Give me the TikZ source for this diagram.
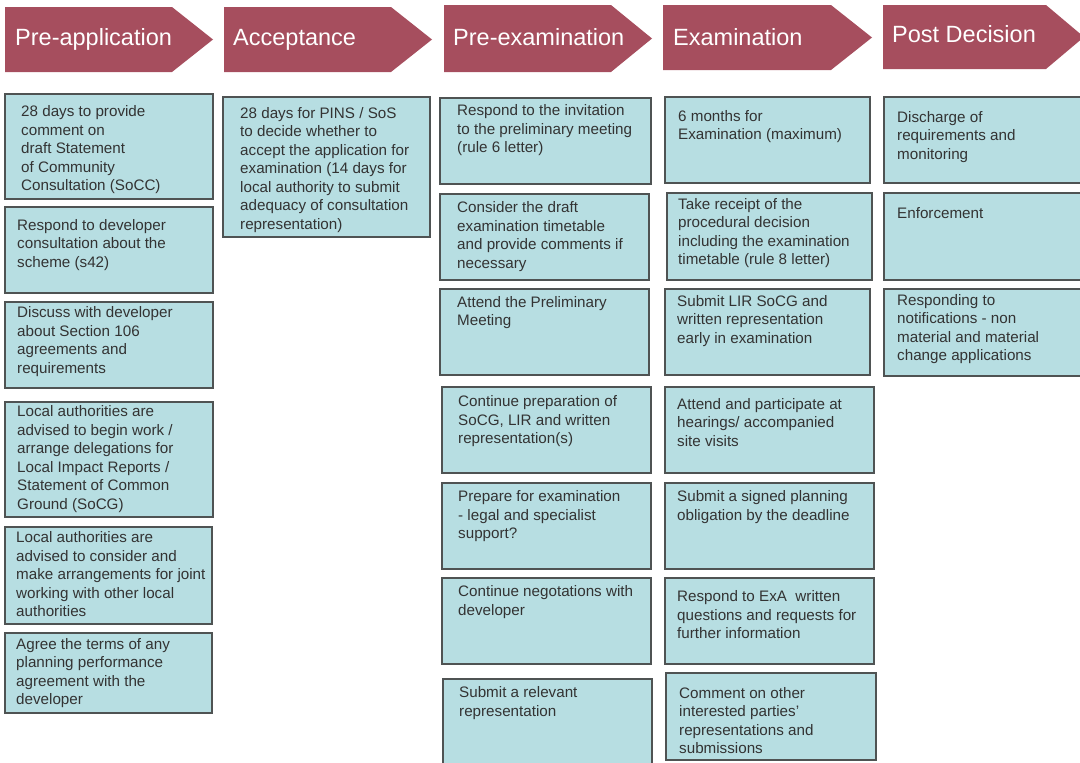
\documentclass[tikz,border=0pt]{standalone}
\usepackage{fontspec}
\setmainfont{Liberation Sans}
\definecolor{hdrcol}{HTML}{A64E5E}
\definecolor{boxfill}{HTML}{B7DEE2}
\definecolor{boxline}{HTML}{4F5353}
\definecolor{txtcol}{HTML}{333333}
\tikzset{
  hdr/.style={fill=hdrcol,draw=none},
  hdrtext/.style={anchor=base west,inner sep=0pt,text=white,font=\fontsize{23.5}{28}\selectfont},
  boxs/.style={draw=boxline,fill=boxfill,line width=1.3pt},
  txt/.style={anchor=base west,inner sep=0pt,text=txtcol,font=\fontsize{15.2}{18.5}\selectfont},
}
\newcommand\mybox[8]{%
  \draw[boxs] (#2,#3) rectangle (#4,#5);
  \node[txt] (#1) at (#6,#7) {\parbox[t]{230pt}{\raggedright #8}};}
\newcommand\mychev[6]{% name, x left, body end, tip, top, bottom
  \fill[hdr] (#2,#5) -- (#3,#5) -- (#4,{(#5+#6)/2}) -- (#3,#6) -- (#2,#6) -- cycle;
  \coordinate (#1) at (#2,#5);}
\begin{document}
\begin{tikzpicture}[x=1pt,y=-1pt]
\useasboundingbox (0,0) rectangle (1080,763);
\begin{scope}
\clip (0,0) rectangle (1080,763);
% headers
\mychev{h1}{5}{172}{213}{7}{72}
\mychev{h2}{224}{391}{432}{7}{72}
\mychev{h3}{444}{611}{652}{5}{72}
\mychev{h4}{663}{831}{872}{5}{70}
\mychev{h5}{883}{1046}{1084}{5}{69}
\node[hdrtext] (t1) at (15,45) {Pre-application};
\node[hdrtext] (t2) at (233,45) {Acceptance};
\node[hdrtext] (t3) at (453,45) {Pre-examination};
\node[hdrtext] (t4) at (673,45) {Examination};
\node[hdrtext] (t5) at (892,42) {Post Decision};
% column 1
\mybox{a1}{5}{94}{213}{199}{21}{116.7}{28 days to provide\\comment on\\draft Statement\\of Community\\Consultation (SoCC)}
\mybox{a2}{5}{207}{213}{293}{17}{230}{Respond to developer\\consultation about the\\scheme (s42)}
\mybox{a3}{5}{302}{213}{388}{17}{317.7}{Discuss with developer\\about Section 106\\agreements and\\requirements}
\mybox{a4}{5}{402}{213}{517}{17}{416.7}{Local authorities are\\advised to begin work /\\arrange delegations for\\Local Impact Reports /\\Statement of Common\\Ground (SoCG)}
\mybox{a5}{5}{527}{212}{624}{16}{542.7}{Local authorities are\\advised to consider and\\make arrangements for joint\\working with other local\\authorities}
\mybox{a6}{5}{633}{212}{713}{16}{649}{Agree the terms of any\\planning performance\\agreement with the\\developer}
% column 2
\mybox{b1}{223}{97}{430}{237}{240}{118.3}{28 days for PINS / SoS\\to decide whether to\\accept the application for\\examination (14 days for\\local authority to submit\\adequacy of consultation\\representation)}
% column 3
\mybox{c1}{440}{98}{651}{184}{457}{115.7}{Respond to the invitation\\to the preliminary meeting\\(rule 6 letter)}
\mybox{c2}{440}{194}{649}{280}{457}{212.7}{Consider the draft\\examination timetable\\and provide comments if\\necessary}
\mybox{c3}{440}{289}{649}{375}{457}{307.3}{Attend the Preliminary\\Meeting}
\mybox{c4}{442}{387}{651}{473}{458}{406.7}{Continue preparation of\\SoCG, LIR and written\\representation(s)}
\mybox{c5}{442}{483}{651}{569}{458}{501.7}{Prepare for examination\\- legal and specialist\\support?}
\mybox{c6}{442}{578}{651}{664}{458}{596.7}{Continue negotations with\\developer}
\mybox{c7}{443}{679}{652}{775}{459}{697.7}{Submit a relevant\\representation}
% column 4
\mybox{d1}{665}{97}{870}{183}{678}{121}{6 months for\\Examination (maximum)}
\mybox{d2}{667}{193}{872}{280}{678}{209.3}{Take receipt of the\\procedural decision\\including the examination\\timetable (rule 8 letter)}
\mybox{d3}{665}{289}{870}{375}{677}{306}{Submit LIR SoCG and\\written representation\\early in examination}
\mybox{d4}{665}{387}{874}{473}{677}{409.3}{Attend and participate at\\hearings/ accompanied\\site visits}
\mybox{d5}{665}{483}{874}{569}{677}{501.7}{Submit a signed planning\\obligation by the deadline}
\mybox{d6}{665}{578}{874}{664}{677}{601.7}{Respond to ExA\ \ written\\questions and requests for\\further information}
\mybox{d7}{666}{673}{876}{760}{679}{698.3}{Comment on other\\interested parties'\\representations and\\submissions}
% column 5
\mybox{e1}{884}{97}{1095}{183}{897}{122.3}{Discharge of\\requirements and\\monitoring}
\mybox{e2}{884}{193}{1095}{280}{897}{218.3}{Enforcement}
\mybox{e3}{884}{289}{1095}{376}{897}{305}{Responding to\\notifications - non\\material and material\\change applications}
\end{scope}
\end{tikzpicture}
\end{document}
